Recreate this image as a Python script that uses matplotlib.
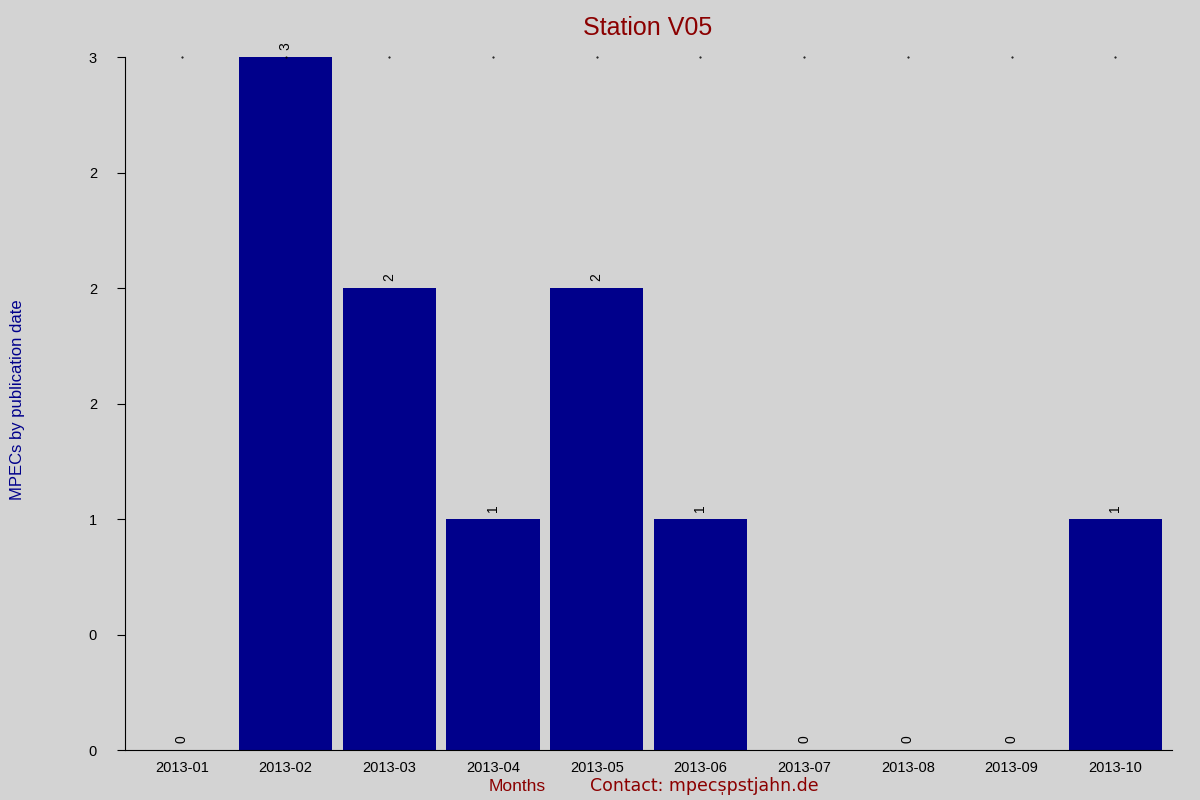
import matplotlib
matplotlib.use("Agg")
import matplotlib.pyplot as plt

months = ["2013-01","2013-02","2013-03","2013-04","2013-05","2013-06","2013-07","2013-08","2013-09","2013-10"]
counts = [0,3,2,1,2,1,0,0,0,1]
yticks = [0,0.5,1,1.5,2,2.5,3]
yticklabels = ["0","0","1","2","2","2","3"]

fig = plt.figure(figsize=(12,8), dpi=100, facecolor="#d3d3d3")
ax = fig.add_axes([0.104,0.0625,0.873,0.866], facecolor="#d3d3d3")
x = list(range(len(months)))
ax.bar(x, counts, width=0.9, color="#00008b")
for xi, c in zip(x, counts):
    ax.text(xi, c + 0.03, str(c), rotation=90, ha="center", va="bottom", fontsize=10, family="Liberation Sans")
ax.set_xlim(-0.55, len(months)-0.45)
ax.set_ylim(0, 3)
ax.set_xticks(x)
ax.set_xticklabels(months, family="Liberation Sans", fontsize=10.5)
ax.set_yticks(yticks)
ax.set_yticklabels(yticklabels, family="Liberation Sans", fontsize=10.5)
ax.tick_params(axis="y", direction="out", length=6, pad=14)
ax.tick_params(axis="x", length=0, pad=8)
for s in ["top","right"]:
    ax.spines[s].set_visible(False)
for xi in x:
    ax.plot(xi, 3, marker=".", markersize=1, color="black", clip_on=False)
fig.text(0.54, 0.965, "Station V05", ha="center", va="center", fontsize=18, color="#8b0000", family="Liberation Sans")
fig.text(0.008, 0.5, "MPECs by publication date", rotation=90, ha="left", va="center", fontsize=12, color="#00008b", family="Liberation Sans")
fig.text(0.431, 0.017, "Months", ha="center", va="center", fontsize=12.5, color="#8b0000", family="Liberation Sans")
fig.text(0.587, 0.017, "Contact: mpecs̩pstjahn.de", ha="center", va="center", fontsize=12.5, color="#8b0000", family="DejaVu Sans")
fig.savefig("out.png", dpi=100, facecolor=fig.get_facecolor())
